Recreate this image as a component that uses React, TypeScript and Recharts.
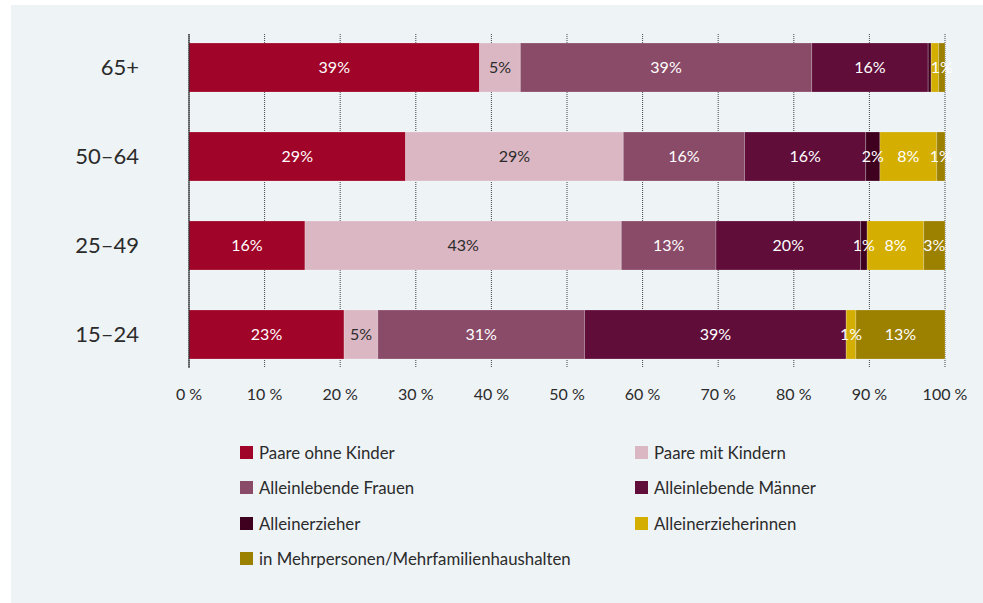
import { BarChart, Bar, XAxis, YAxis, CartesianGrid, LabelList } from 'recharts';

const categories = ['65+', '50–64', '25–49', '15–24'];

// raw shares per age group, bars are normalised to 100 % (stackOffset="expand")
const paareOhneKinder = [38.8, 28.95, 15.8, 22.96];
const paareMitKindern = [5.45, 29.1, 43.1, 5.0];
const alleinlebendeFrauen = [38.9, 16.2, 12.9, 30.6];
const alleinlebendeMaenner = [15.55, 16.2, 19.7, 38.75];
const alleinerzieher = [0.4, 1.9, 0.9, 0];
const alleinerzieherinnen = [1.0, 7.6, 7.7, 1.43];
const mehrpersonen = [0.85, 1.1, 2.9, 13.2];

const xTicks = [0, 0.1, 0.2, 0.3, 0.4, 0.5, 0.6, 0.7, 0.8, 0.9, 1];

// labels that the original leaves out because the segment is too narrow
const hiddenLabels = [{ category: '65+', key: 'alleinerzieherinnen' }];

const series = [
  { key: 'paareOhneKinder', name: 'Paare ohne Kinder', values: paareOhneKinder, color: '#a00428', text: '#ffffff' },
  { key: 'paareMitKindern', name: 'Paare mit Kindern', values: paareMitKindern, color: '#dbb7c3', text: '#2b2b2b' },
  { key: 'alleinlebendeFrauen', name: 'Alleinlebende Frauen', values: alleinlebendeFrauen, color: '#8a4b68', text: '#ffffff' },
  { key: 'alleinlebendeMaenner', name: 'Alleinlebende Männer', values: alleinlebendeMaenner, color: '#600d3a', text: '#ffffff' },
  { key: 'alleinerzieher', name: 'Alleinerzieher', values: alleinerzieher, color: '#3f0020', text: '#ffffff' },
  { key: 'alleinerzieherinnen', name: 'Alleinerzieherinnen', values: alleinerzieherinnen, color: '#d4ae00', text: '#ffffff' },
  { key: 'mehrpersonen', name: 'in Mehrpersonen/Mehrfamilienhaushalten', values: mehrpersonen, color: '#9c8000', text: '#ffffff' },
];

const rows = categories.map((category, i) => {
  const row: Record<string, string | number> = { category };
  series.forEach((s) => {
    const v = s.values[i];
    const hidden = hiddenLabels.some((h) => h.category === category && h.key === s.key);
    row[s.key] = v;
    row[`${s.key}Label`] = hidden || Math.round(v) < 1 ? '' : `${Math.round(v)}%`;
  });
  return row;
});

const textColor = '#2b2b2b';

export default function App() {
  return (
    <div style={{ position: 'absolute', left: 0, top: 0, width: 983, height: 603, background: '#ffffff' }}>
      <div
        style={{
          position: 'absolute',
          left: 11,
          top: 5,
          width: 972,
          height: 598,
          background: '#eef3f6',
          fontFamily: 'Lato, sans-serif',
        }}
      >
        <BarChart
          width={972}
          height={598}
          data={rows}
          layout="vertical"
          stackOffset="expand"
          margin={{ top: 29, right: 38, left: 0, bottom: 175 }}
        >
          <CartesianGrid horizontal={false} stroke="#444" strokeDasharray="1 1" />
          <XAxis
            type="number"
            domain={[0, 1]}
            ticks={xTicks}
            interval={0}
            tickFormatter={(v: number) => `${Math.round(v * 100)} %`}
            axisLine={false}
            tickLine={false}
            tickSize={0}
            tickMargin={21}
            height={60}
            tick={{ fill: textColor, fontSize: 16 }}
          />
          <YAxis
            type="category"
            dataKey="category"
            width={178}
            axisLine={{ stroke: '#1a1a1a' }}
            tickLine={false}
            tickSize={0}
            tickMargin={50}
            padding={{ top: -11, bottom: -11 }}
            tick={{ fill: textColor, fontSize: 22 }}
          />
          {series.map((s) => (
            <Bar
              key={s.key}
              dataKey={s.key}
              name={s.name}
              stackId="a"
              fill={s.color}
              barSize={49}
              stroke="rgba(255,255,255,0.35)"
              strokeWidth={0.6}
              isAnimationActive={false}
            >
              <LabelList dataKey={`${s.key}Label`} position="center" fill={s.text} fontSize={16} />
            </Bar>
          ))}
        </BarChart>

        {series.map((s, i) => (
          <div
            key={s.key}
            style={{
              position: 'absolute',
              left: i % 2 === 0 ? 229 : 624,
              top: 437 + Math.floor(i / 2) * 35.5,
              height: 20,
              display: 'flex',
              alignItems: 'center',
              fontSize: 16.8,
              color: textColor,
              whiteSpace: 'nowrap',
            }}
          >
            <span style={{ display: 'inline-block', width: 13, height: 13, background: s.color, marginRight: 6 }} />
            {s.name}
          </div>
        ))}
      </div>
    </div>
  );
}
